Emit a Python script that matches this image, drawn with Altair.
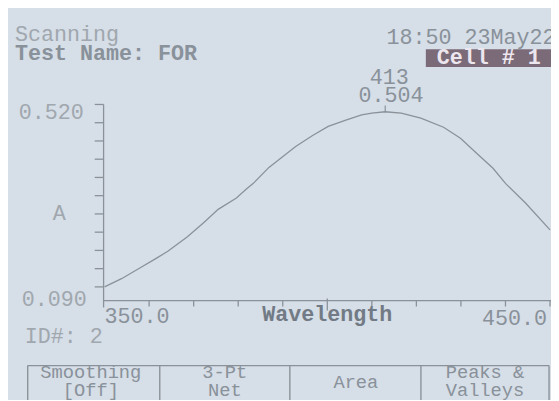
import altair as alt
import pandas as pd

# ---------------- data ----------------
wavelength = [350.0, 353.8, 358.2, 361.3, 364.2, 368.6, 372.3, 375.5, 379.6, 381.9,
              383.4, 386.9, 392.9, 396.7, 400.2, 404.0, 407.7, 410.0, 413.0, 416.6,
              421.0, 426.1, 429.9, 433.4, 437.2, 440.0, 444.5, 450.0]
absorbance = [0.120, 0.138, 0.163, 0.181, 0.198, 0.230, 0.261, 0.290, 0.315, 0.335,
              0.347, 0.382, 0.428, 0.452, 0.472, 0.485, 0.497, 0.501, 0.504, 0.501,
              0.490, 0.470, 0.446, 0.414, 0.380, 0.347, 0.304, 0.245]
peak_wavelength = [413]
peak_absorbance = [0.504]
y_ticks = [0.12, 0.16, 0.20, 0.24, 0.28, 0.32, 0.36, 0.40, 0.44, 0.48, 0.52]
x_minor_ticks = [360, 370, 380, 390, 410, 420, 430, 440, 450]
x_major_ticks = [400]
x_domain = [350, 450]
y_domain = [0.09, 0.52]

header_lines = ["Scanning", "Test Name: FOR"]
timestamp = "18:50 23May22"
cell_label = "Cell # 1"
y_title = "A"
y_top_label = "0.520"
y_bottom_label = "0.090"
x_left_label = "350.0"
x_right_label = "450.0"
x_title = "Wavelength"
sample_id = "ID#: 2"
buttons = [["Smoothing", "[Off]"], ["3-Pt", "Net"], ["Area"], ["Peaks &", "Valleys"]]

# ---------------- styling ----------------
FONT = "Liberation Mono"
BG = "#d6dee7"
TEXT = "#89919a"
LIGHT = "#a0a7ae"
DARK = "#727b85"
LINE = "#8a9199"
SIZE = 22
BTN_SIZE = 19

xs = alt.Scale(domain=x_domain, nice=False, zero=False)
ys = alt.Scale(domain=y_domain, nice=False, zero=False)


def label(text, x, y, align="left", baseline="alphabetic", color=TEXT, weight="normal", size=SIZE):
    return alt.Chart(pd.DataFrame({"t": [text]})).mark_text(
        align=align, baseline=baseline, color=color, font=FONT,
        fontSize=size, fontWeight=weight
    ).encode(x=alt.value(x), y=alt.value(y), text="t:N")


one = pd.DataFrame({"v": [0]})

curve_df = pd.DataFrame({"nm": wavelength, "a": absorbance})
curve = alt.Chart(curve_df).mark_line(color=LINE, strokeWidth=1.3, interpolate="linear").encode(
    x=alt.X("nm:Q", scale=xs, axis=None),
    y=alt.Y("a:Q", scale=ys, axis=None),
)

peak_df = pd.DataFrame({"nm": peak_wavelength, "a": peak_absorbance})
peak_df["nm_t"] = peak_df["nm"].map(lambda v: f"{v:d}")
peak_df["a_t"] = peak_df["a"].map(lambda v: f"{v:.3f}")
peak_tick = alt.Chart(peak_df).mark_rule(color=LINE, strokeWidth=1.2).encode(
    x=alt.X("nm:Q", scale=xs, axis=None),
    y=alt.Y("a:Q", scale=ys, axis=None),
    y2=alt.value(1),
)
peak_nm = alt.Chart(peak_df).mark_text(font=FONT, fontSize=SIZE, color=TEXT, align="center",
                                       baseline="alphabetic", dx=4, dy=-28).encode(
    x=alt.X("nm:Q", scale=xs, axis=None), y=alt.Y("a:Q", scale=ys, axis=None), text="nm_t:N")
peak_a = alt.Chart(peak_df).mark_text(font=FONT, fontSize=SIZE, color=TEXT, align="center",
                                      baseline="alphabetic", dx=6, dy=-10).encode(
    x=alt.X("nm:Q", scale=xs, axis=None), y=alt.Y("a:Q", scale=ys, axis=None), text="a_t:N")

# axes drawn as rules through the scales
y_axis_line = alt.Chart(one).mark_rule(color=LINE, strokeWidth=1.3).encode(
    x=alt.value(-1), y=alt.value(0), y2=alt.value(206))
y_tick_marks = alt.Chart(pd.DataFrame({"t": y_ticks})).mark_rule(color=LINE, strokeWidth=1.3).encode(
    y=alt.Y("t:Q", scale=ys, axis=None), x=alt.value(-10), x2=alt.value(-1))
x_axis_line = alt.Chart(one).mark_rule(color=LINE, strokeWidth=1.3).encode(
    x=alt.value(-1), x2=alt.value(460), y=alt.value(199))
x_minor = alt.Chart(pd.DataFrame({"t": x_minor_ticks})).mark_rule(color=LINE, strokeWidth=1.3).encode(
    x=alt.X("t:Q", scale=xs, axis=None), y=alt.value(199), y2=alt.value(205))
x_major = alt.Chart(pd.DataFrame({"t": x_major_ticks})).mark_rule(color=LINE, strokeWidth=1.3).encode(
    x=alt.X("t:Q", scale=xs, axis=None), y=alt.value(197), y2=alt.value(209))

x_lab_df = pd.DataFrame({"x": [x_domain[0], x_domain[1]], "t": [x_left_label, x_right_label]})
x_left = alt.Chart(x_lab_df.iloc[[0]]).mark_text(font=FONT, fontSize=SIZE, color=TEXT, align="left",
                                                 baseline="alphabetic").encode(
    x=alt.X("x:Q", scale=xs, axis=None), y=alt.value(222), text="t:N")
x_right = alt.Chart(x_lab_df.iloc[[1]]).mark_text(font=FONT, fontSize=SIZE, color=TEXT, align="right",
                                                  baseline="alphabetic", dx=-3).encode(
    x=alt.X("x:Q", scale=xs, axis=None), y=alt.value(224), text="t:N")
x_ttl = alt.Chart(pd.DataFrame({"x": [400], "t": [x_title]})).mark_text(
    font=FONT, fontSize=SIZE, color=DARK, align="center", baseline="alphabetic", fontWeight="bold").encode(
    x=alt.X("x:Q", scale=xs, axis=None), y=alt.value(220), text="t:N")

# header
cell_box = alt.Chart(one).mark_rect(color="#7b6a77").encode(
    x=alt.value(326), x2=alt.value(470), y=alt.value(-56), y2=alt.value(-38))

layers = [
    cell_box,
    label(header_lines[0], -91, -64, color=LIGHT),
    label(header_lines[1], -91, -45, color=TEXT, weight="bold"),
    label(timestamp, 286, -61, color=TEXT),
    label(cell_label, 337, -41, color="#ece6ee", weight="bold"),
    label(y_top_label, -21, 8, align="right", baseline="middle", color=LIGHT),
    label(y_bottom_label, -18, 197, align="right", baseline="middle", color=LIGHT),
    label(y_title, -46, 110, align="center", baseline="middle", color=LIGHT),
    label(sample_id, -81, 242, color=LIGHT),
    y_axis_line, y_tick_marks, x_axis_line, x_minor, x_major,
    x_left, x_right, x_ttl,
    curve, peak_tick, peak_nm, peak_a,
]

# soft-key buttons
btn_edges = [-78, 56, 188, 321, 451]
layers.append(alt.Chart(one).mark_rule(color=LINE, strokeWidth=1.4).encode(
    x=alt.value(btn_edges[0]), x2=alt.value(btn_edges[-1]), y=alt.value(265)))
for e in btn_edges:
    layers.append(alt.Chart(one).mark_rule(color=LINE, strokeWidth=1.4).encode(
        x=alt.value(e), y=alt.value(265), y2=alt.value(300)))
btn_centers = [-14, 122, 255, 386]
for lines, cx in zip(buttons, btn_centers):
    if len(lines) == 1:
        layers.append(label(lines[0], cx, 288, align="center", color=TEXT, size=BTN_SIZE))
    else:
        layers.append(label(lines[0], cx, 278, align="center", color=TEXT, size=BTN_SIZE))
        layers.append(label(lines[1], cx, 296, align="center", color=TEXT, size=BTN_SIZE))

chart = alt.layer(*layers).properties(
    width=452, height=199,
    padding={"left": 98, "top": 95, "right": 1, "bottom": 98},
    autosize=alt.AutoSizeParams(type="none"),
    background=BG,
).configure_view(strokeWidth=0)

chart.save("out.html", embed_options={"renderer": "svg", "actions": False})
